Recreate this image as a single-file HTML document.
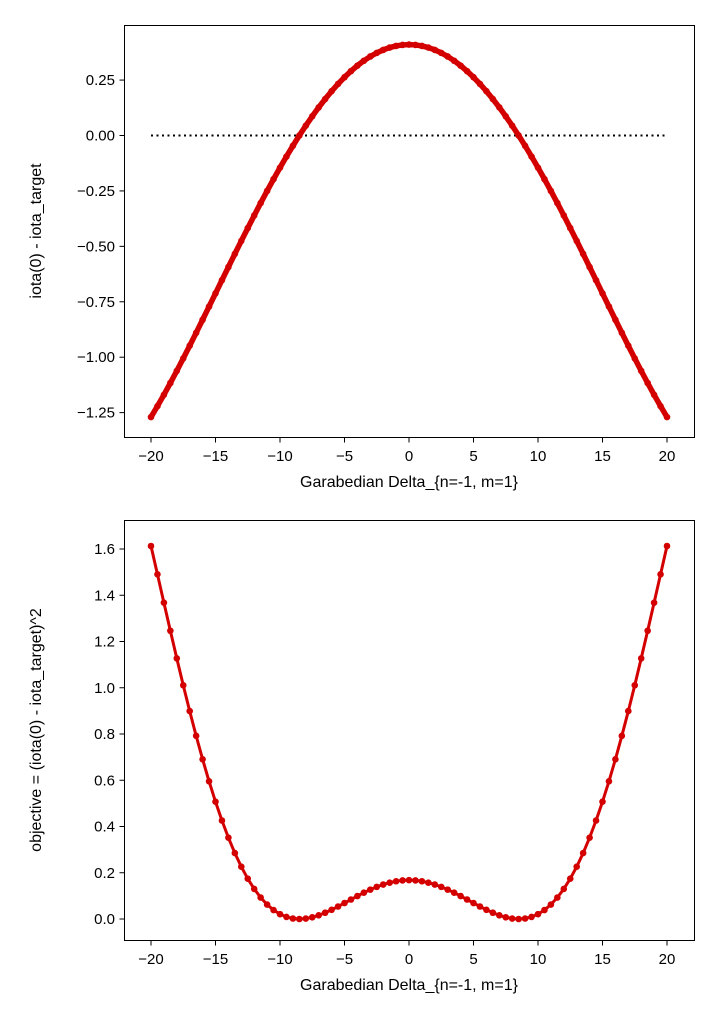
<!DOCTYPE html>
<html><head><meta charset="utf-8"><style>
body{margin:0;background:#fff;}
svg{display:block;font-family:"Liberation Sans","DejaVu Sans",sans-serif;}
</style></head><body>
<svg id="chart" width="720" height="1022" viewBox="0 0 720 1022" xmlns="http://www.w3.org/2000/svg"></svg>
<script>
const deltaValues=[-20,-19.5,-19,-18.5,-18,-17.5,-17,-16.5,-16,-15.5,-15,-14.5,-14,-13.5,-13,-12.5,-12,-11.5,-11,-10.5,-10,-9.5,-9,-8.5,-8,-7.5,-7,-6.5,-6,-5.5,-5,-4.5,-4,-3.5,-3,-2.5,-2,-1.5,-1,-0.5,0,0.5,1,1.5,2,2.5,3,3.5,4,4.5,5,5.5,6,6.5,7,7.5,8,8.5,9,9.5,10,10.5,11,11.5,12,12.5,13,13.5,14,14.5,15,15.5,16,16.5,17,17.5,18,18.5,19,19.5,20];
const iotaDiff=[-1.27,-1.2208,-1.1696,-1.1164,-1.0616,-1.0054,-0.9482,-0.89,-0.8311,-0.7717,-0.7122,-0.6526,-0.5931,-0.534,-0.4755,-0.4176,-0.3607,-0.3048,-0.2501,-0.1968,-0.145,-0.0949,-0.0465,0,0.0444,0.0867,0.1268,0.1645,0.1998,0.2326,0.2628,0.2903,0.3152,0.3372,0.3564,0.3727,0.3861,0.3965,0.404,0.4085,0.41,0.4085,0.404,0.3965,0.3861,0.3727,0.3564,0.3372,0.3152,0.2903,0.2628,0.2326,0.1998,0.1645,0.1268,0.0867,0.0444,0,-0.0465,-0.0949,-0.145,-0.1968,-0.2501,-0.3048,-0.3607,-0.4176,-0.4755,-0.534,-0.5931,-0.6526,-0.7122,-0.7717,-0.8311,-0.89,-0.9482,-1.0054,-1.0616,-1.1164,-1.1696,-1.2208,-1.27];
const objectiveVals=[1.6129,1.4904,1.368,1.2464,1.127,1.0108,0.8991,0.7921,0.6907,0.5955,0.5072,0.4259,0.3518,0.2852,0.2261,0.1744,0.1301,0.0929,0.0626,0.0387,0.021,0.009,0.0022,0,0.002,0.0075,0.0161,0.0271,0.0399,0.0541,0.0691,0.0843,0.0994,0.1137,0.127,0.1389,0.1491,0.1572,0.1632,0.1669,0.1681,0.1669,0.1632,0.1572,0.1491,0.1389,0.127,0.1137,0.0994,0.0843,0.0691,0.0541,0.0399,0.0271,0.0161,0.0075,0.002,0,0.0022,0.009,0.021,0.0387,0.0626,0.0929,0.1301,0.1744,0.2261,0.2852,0.3518,0.4259,0.5072,0.5955,0.6907,0.7921,0.8991,1.0108,1.127,1.2464,1.368,1.4904,1.6129];
const xTicks=[-20,-15,-10,-5,0,5,10,15,20];
const topYTicks=[0.25,0,-0.25,-0.5,-0.75,-1,-1.25];
const topYLabels=["0.25","0.00","\u22120.25","\u22120.50","\u22120.75","\u22121.00","\u22121.25"];
const botYTicks=[0,0.2,0.4,0.6,0.8,1.0,1.2,1.4,1.6];
const botYLabels=["0.0","0.2","0.4","0.6","0.8","1.0","1.2","1.4","1.6"];
const refLine=[0,0];

const NS="http://www.w3.org/2000/svg";
const svg=document.getElementById('chart');
function mk(tag,attrs,parent){const e=document.createElementNS(NS,tag);for(const k in attrs)e.setAttribute(k,attrs[k]);(parent||svg).appendChild(e);return e;}
const xs=v=>409+v*12.9;
const yTop=v=>135.5-v*221.7;
const yBot=v=>919-v*231.25;

function axes(name,top,bottom,yFn,yT,yL,ylabel,ylabelY){
  const g=mk('g',{});
  
  
  const f=mk('rect',{x:124.5,y:top+0.5,width:570,height:bottom-top,fill:'none',stroke:'#000','stroke-width':1},g);
  
  
  xTicks.forEach(t=>{
    mk('line',{x1:xs(t),x2:xs(t),y1:bottom+0.5,y2:bottom+5.5,stroke:'#000'},g);
    const tx=mk('text',{x:xs(t),y:bottom+24,'font-size':15,'text-anchor':'middle'},g);
    tx.textContent=(t<0?'\u2212':'')+Math.abs(t);
    
    
  });
  yT.forEach((t,i)=>{
    mk('line',{x1:119.5,x2:124.5,y1:yFn(t),y2:yFn(t),stroke:'#000'},g);
    const tx=mk('text',{x:115,y:yFn(t)+5,'font-size':15,'text-anchor':'end'},g);
    tx.textContent=yL[i];
    
    
  });
  const xl=mk('text',{x:409,y:bottom+50,'font-size':16,'text-anchor':'middle'},g);
  xl.textContent='Garabedian Delta_{n=-1, m=1}';
  
  
  const yl=mk('text',{x:0,y:0,'font-size':16,'text-anchor':'middle',transform:`translate(41,${ylabelY}) rotate(-90)`},g);
  yl.textContent=ylabel;
  
  
  return g;
}
function series(name,g,yFn,vals,lw,r){
  const pts=deltaValues.map((d,i)=>xs(d)+','+yFn(vals[i])).join(' ');
  const pl=mk('polyline',{points:pts,fill:'none',stroke:'#d40000','stroke-width':lw,'stroke-linejoin':'round'},g);
  
  
  deltaValues.forEach((d,i)=>{
    const c=mk('circle',{cx:xs(d),cy:yFn(vals[i]),r:r,fill:'#d40000'},g);
    
    
  });
}
const g1=axes('top-panel',25,437,yTop,topYTicks,topYLabels,'iota(0) - iota_target',231);
const ref=mk('line',{x1:xs(deltaValues[0]),x2:xs(deltaValues[deltaValues.length-1]),y1:yTop(refLine[0]),y2:yTop(refLine[1]),stroke:'#000','stroke-width':2,'stroke-dasharray':'2,3.5'},g1);


series('iota-diff',g1,yTop,iotaDiff,5.5,3.3);
const g2=axes('bottom-panel',520,940,yBot,botYTicks,botYLabels,'objective = (iota(0) - iota_target)^2',730);
series('objective',g2,yBot,objectiveVals,3,3.3);
</script>
</body></html>
